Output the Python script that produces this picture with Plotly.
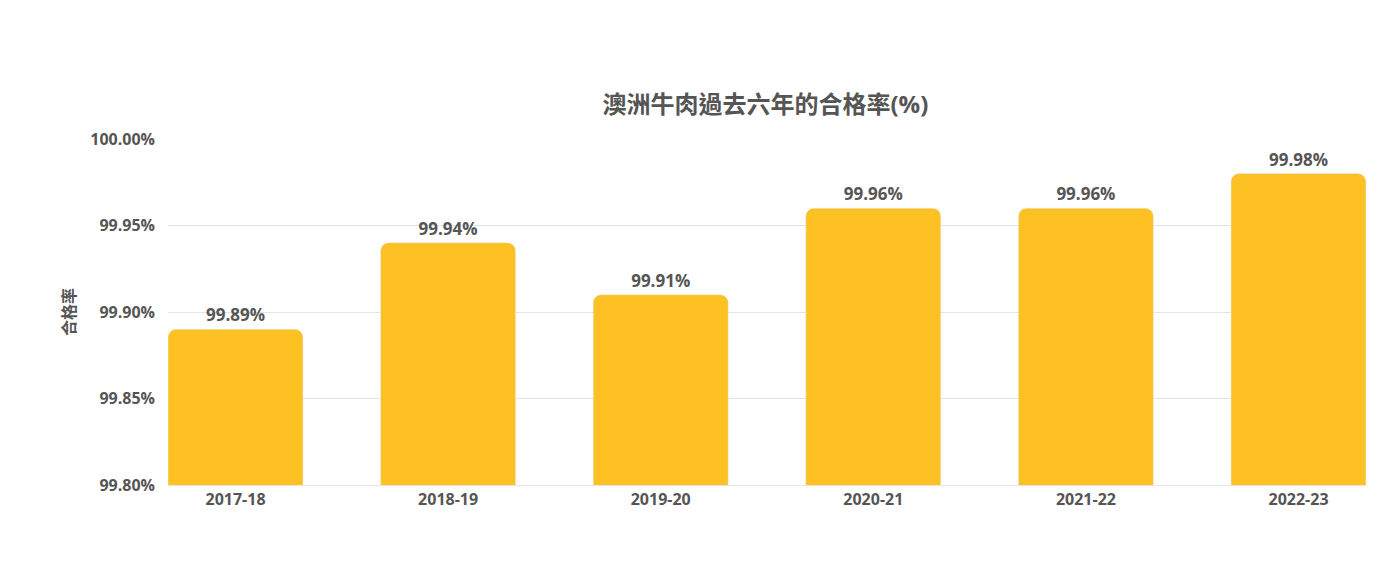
import plotly.graph_objects as go

years = ["2017-18", "2018-19", "2019-20", "2020-21", "2021-22", "2022-23"]
rates = [99.89, 99.94, 99.91, 99.96, 99.96, 99.98]
tick_vals = [99.80, 99.85, 99.90, 99.95, 100.00]
tick_text = ["99.80%", "99.85%", "99.90%", "99.95%", "100.00%"]

font = "Open Sans, Noto Sans CJK TC, sans-serif"
w = 0.635
fig = go.Figure(go.Bar(
    x=list(range(len(years))), y=rates, width=w, marker_color="#FDC123",
    text=[f"{v:.2f}%" for v in rates], textposition="outside",
    textfont=dict(size=17, color="#555555", family=font, weight="bold"),
    cliponaxis=False,
))
fig.update_layout(
    width=1400, height=580, plot_bgcolor="white", paper_bgcolor="white",
    margin=dict(l=160, r=42, t=131, b=103),
    barcornerradius=8,
    title=dict(text="澳洲牛肉過去六年的合格率(%)", x=0.541, xanchor="center", y=0.833, yanchor="middle",
               font=dict(size=24, color="#555555", family=font, weight="bold")),
    font=dict(family=font, color="#555555"),
    showlegend=False,
)
fig.update_xaxes(tickvals=list(range(len(years))), ticktext=years, range=[-w/2, len(years)-1+w/2],
                 tickfont=dict(size=16, color="#555555", weight="bold"), showgrid=False,
                 showline=True, linecolor="#e6e6e6", ticks="")
fig.update_yaxes(range=[99.80, 100.00], tickvals=tick_vals, ticktext=tick_text,
                 tickfont=dict(size=16, color="#555555", weight="bold"),
                 gridcolor="#e3e3e3", zeroline=False, ticklabelstandoff=12,
                 title=dict(text="合格率", font=dict(size=16, color="#555555", weight="bold"), standoff=10))
fig.write_html("out.html")
